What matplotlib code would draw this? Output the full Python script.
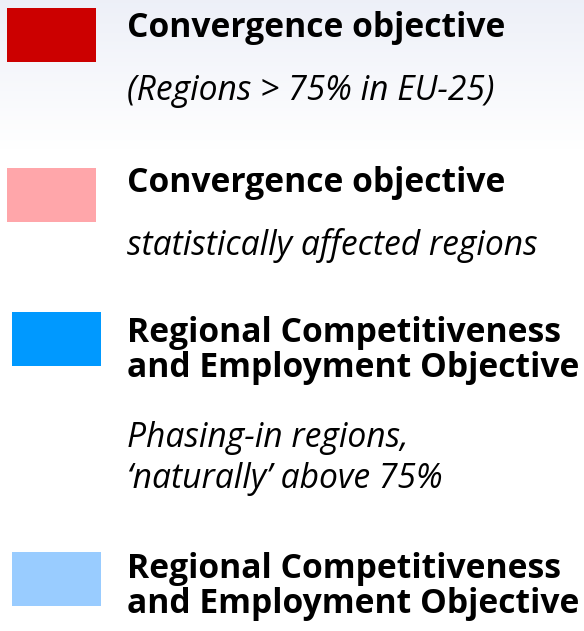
import numpy as np
import matplotlib.pyplot as plt

# legend entries
headings = ["Convergence objective",
            "Convergence objective",
            "Regional Competitiveness\nand Employment Objective",
            "Regional Competitiveness\nand Employment Objective"]
notes = ["(Regions > 75% in EU-25)",
         "statistically affected regions",
         "Phasing-in regions,\n\u2018naturally\u2019 above 75%",
         ""]
colors = ["#cc0000", "#ffa6aa", "#0099ff", "#99ccff"]

# layout (pixels, top-down)
sw_x = [7, 7, 12, 12]
sw_top = [8, 168, 312, 552]
head_base = [37, 192, 342, 578]
note_base = [100, 255, 447, 0]
W, H = 584, 631

fig = plt.figure(figsize=(W / 100, H / 100), dpi=100)
ax = fig.add_axes([0, 0, 1, 1])
ax.set_xlim(0, W)
ax.set_ylim(H, 0)
ax.axis("off")

# soft background gradient at the top
gh = 150
grad = np.linspace(0, 1, gh)[:, None]
top = np.array([0.93, 0.94, 0.972])
img = top[None, None, :] * (1 - grad[..., None]) + np.ones(3)[None, None, :] * grad[..., None]
img = np.repeat(img, 2, axis=1)
ax.imshow(img, extent=[0, W, gh, 0], aspect="auto", zorder=0)

ax.bar(sw_x, 54, width=89, bottom=sw_top, color=colors, align="edge", zorder=1)

fs = 24.2
for i in range(len(headings)):
    for j, line in enumerate(headings[i].split("\n")):
        ax.text(127, head_base[i] + j * 35, line, fontsize=fs, fontweight="bold",
                family="Open Sans", va="baseline", ha="left", color="black")
    if notes[i]:
        for j, line in enumerate(notes[i].split("\n")):
            ax.text(127, note_base[i] + j * 41, line, fontsize=fs, style="italic",
                    family="Open Sans", va="baseline", ha="left", color="black")

fig.savefig("out.png", dpi=100)
